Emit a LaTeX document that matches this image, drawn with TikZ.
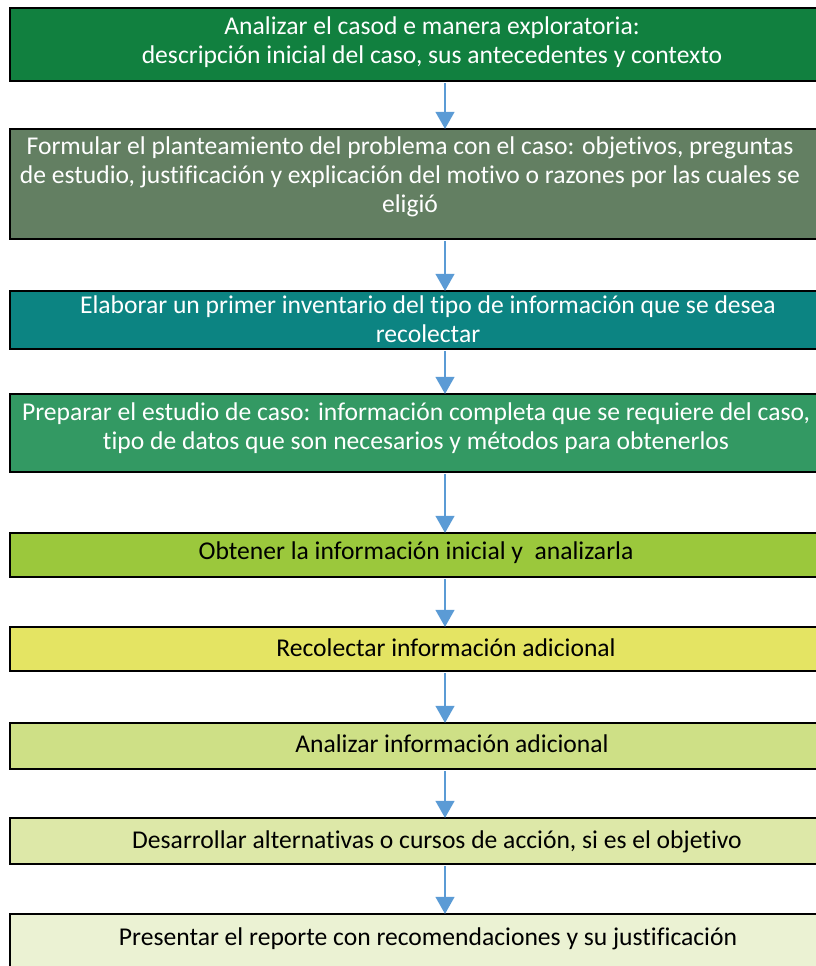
\documentclass[tikz,border=0pt]{standalone}
\usepackage{fontspec}
\setmainfont{Carlito}[Ligatures=NoCommon]
\usetikzlibrary{arrows.meta}
\definecolor{c1}{HTML}{11803F}
\definecolor{c2}{HTML}{637F62}
\definecolor{c3}{HTML}{0C8482}
\definecolor{c4}{HTML}{339963}
\definecolor{c5}{HTML}{9BC83C}
\definecolor{c6}{HTML}{E4E463}
\definecolor{c7}{HTML}{CEE086}
\definecolor{c8}{HTML}{DDE8A8}
\definecolor{c9}{HTML}{EBF2D3}
\definecolor{arr}{HTML}{5B9BD5}
\tikzset{
  stepbox/.style={draw=black, line width=1.7pt, minimum width=870*0.75pt, inner sep=0pt, anchor=center},
  lbl/.style={align=center, inner sep=0pt, font=\fontsize{19.2}{21.9}\selectfont},
  flow/.style={draw=arr, line width=1.5pt, -{Triangle[width=14pt,length=12.75pt]}, shorten >=-0.8pt, shorten <=0.8pt}
}
\begin{document}
\begin{tikzpicture}[x=0.75pt,y=-0.75pt]
\useasboundingbox (0,0) rectangle (816,966);
\clip (0,0) rectangle (816,966);
\node[stepbox, fill=c1, minimum height=73*0.75pt] (b1) at (445,44.5) {};
\node[stepbox, fill=c2, minimum height=110*0.75pt] (b2) at (445,184) {};
\node[stepbox, fill=c3, minimum height=58*0.75pt] (b3) at (445,320) {};
\node[stepbox, fill=c4, minimum height=78*0.75pt] (b4) at (445,433) {};
\node[stepbox, fill=c5, minimum height=44*0.75pt] (b5) at (445,555) {};
\node[stepbox, fill=c6, minimum height=44*0.75pt] (b6) at (445,649) {};
\node[stepbox, fill=c7, minimum height=46*0.75pt] (b7) at (445,746) {};
\node[stepbox, fill=c8, minimum height=46*0.75pt] (b8) at (445,841) {};
\node[stepbox, fill=c9, minimum height=86*0.75pt] (b9) at (445,957) {};

\node[lbl, text=white] (t1) at (432,42) {Analizar el casod e manera exploratoria:\\descripción inicial del caso, sus antecedentes y contexto};
\node[lbl, text=white] (t2) at (410,177) {Formular el planteamiento del problema con el caso: objetivos, preguntas\\de estudio, justificación y explicación del motivo o razones por las cuales se\\eligió};
\node[lbl, text=white] (t3) at (428,319) {Elaborar un primer inventario del tipo de información que se desea\\recolectar};
\node[lbl, text=white] (t4) at (416,428) {Preparar el estudio de caso: información completa que se requiere del caso,\\tipo de datos que son necesarios y métodos para obtenerlos};
\node[lbl, text=black] (t5) at (416,553) {Obtener la información inicial y\ \ analizarla};
\node[lbl, text=black] (t6) at (446,648) {Recolectar información adicional};
\node[lbl, text=black] (t7) at (452,744) {Analizar información adicional};
\node[lbl, text=black] (t8) at (437,842) {Desarrollar alternativas o cursos de acción, si es el objetivo};
\node[lbl, text=black] (t9) at (428,939) {Presentar el reporte con recomendaciones y su justificación};

\draw[flow] (b1) -- (b2);
\draw[flow] (b2) -- (b3);
\draw[flow] (b3) -- (b4);
\draw[flow] (b4) -- (b5);
\draw[flow] (b5) -- (b6);
\draw[flow] (b6) -- (b7);
\draw[flow] (b7) -- (b8);
\draw[flow] (b8) -- (b9);
\end{tikzpicture}
\end{document}
